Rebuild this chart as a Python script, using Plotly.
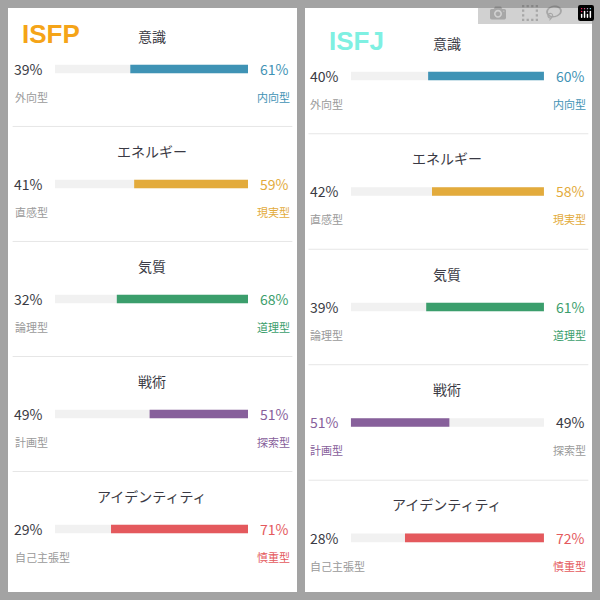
import plotly.graph_objects as go

types = ["ISFP", "ISFJ"]
type_colors = ["#f5a418", "#7ff0e2"]
titles = ["意識", "エネルギー", "気質", "戦術", "アイデンティティ"]
left_labels = ["外向型", "直感型", "論理型", "計画型", "自己主張型"]
right_labels = ["内向型", "現実型", "道理型", "探索型", "慎重型"]
colors = ["#3f93b5", "#e3ab3c", "#3b9e6c", "#87609b", "#e4595d"]
left_pct = {"ISFP": [39, 41, 32, 49, 29], "ISFJ": [40, 42, 39, 51, 28]}

FONT = "Noto Sans CJK JP"
DARK = "#3a3a44"
GRAY = "#9a9a9a"

fig = go.Figure()
panels = [dict(dom=[8/600, 297/600], xr=[-24.4, 125.4], yr=[4.548, -0.53], name="x", yname="y"),
          dict(dom=[305/600, 592/600], xr=[-23.8, 124.9], yr=[4.468, -0.589], name="x2", yname="y2")]

shapes = []
annotations = []
for p, t in enumerate(types):
    xa, ya = panels[p]["name"], panels[p]["yname"]
    rows = list(range(len(titles)))
    lp = left_pct[t]
    rp = [100 - v for v in lp]
    # track
    fig.add_trace(go.Bar(x=[100] * 5, y=rows, base=[0] * 5, orientation="h", width=0.075,
                         marker=dict(color="#f1f1f1", line_width=0), xaxis=xa, yaxis=ya,
                         hoverinfo="skip", showlegend=False))
    right_dom = [r > l for l, r in zip(lp, rp)]
    fig.add_trace(go.Bar(x=[rp[i] if right_dom[i] else lp[i] for i in rows], y=rows,
                         base=[lp[i] if right_dom[i] else 0 for i in rows], orientation="h",
                         width=0.075, marker=dict(color=colors, line_width=0),
                         xaxis=xa, yaxis=ya, showlegend=False))
    for i in rows:
        c = colors[i]
        lc, rc = (DARK, c) if right_dom[i] else (c, DARK)
        llc, rlc = (GRAY, c) if right_dom[i] else (c, GRAY)
        annotations += [
            dict(x=50, y=i - 0.29, text=titles[i], font=dict(size=14, color=DARK, family=FONT)),
            dict(x=-5, y=i, text=f"{lp[i]}%", xanchor="right", font=dict(size=14, color=lc, family=FONT)),
            dict(x=105, y=i, text=f"{rp[i]}%", xanchor="left", font=dict(size=14, color=rc, family=FONT)),
            dict(x=-22, y=i + 0.24, text=left_labels[i], xanchor="left", font=dict(size=11, color=llc, family=FONT)),
            dict(x=123, y=i + 0.24, text=right_labels[i], xanchor="right", font=dict(size=11, color=rlc, family=FONT)),
        ]
        annotations[-5:] = [dict(a, xref=xa, yref=ya, showarrow=False) for a in annotations[-5:]]
        if i < 4:
            shapes.append(dict(type="line", xref=xa, yref=ya, x0=-22, x1=123, y0=i + 0.5, y1=i + 0.5,
                               line=dict(color="#e6e6e6", width=1)))
    annotations.append(dict(xref=xa, yref=ya, x=-2 if p == 0 else 3, y=-0.3, text=f"<b>{t}</b>",
                            showarrow=False, font=dict(size=26, color=type_colors[p], family="Liberation Sans")))
    d = panels[p]["dom"]
    shapes.insert(0, dict(type="rect", xref="paper", yref="paper", x0=d[0], x1=d[1], y0=8/600, y1=592/600,
                          fillcolor="white", line_width=0, layer="below"))

ax = dict(showgrid=False, zeroline=False, showticklabels=False, fixedrange=True)
fig.update_layout(
    width=600, height=600, margin=dict(l=0, r=0, t=0, b=0),
    paper_bgcolor="#a3a3a3", plot_bgcolor="rgba(0,0,0,0)", barmode="overlay",
    xaxis=dict(ax, domain=panels[0]["dom"], range=panels[0]["xr"]),
    yaxis=dict(ax, domain=[8/600, 592/600], range=panels[0]["yr"]),
    xaxis2=dict(ax, domain=panels[1]["dom"], range=panels[1]["xr"]),
    yaxis2=dict(ax, domain=[8/600, 592/600], range=panels[1]["yr"], anchor="x2"),
    shapes=shapes, annotations=annotations,
)
fig.write_html("out.html", post_script="document.body.style.margin='0';")
